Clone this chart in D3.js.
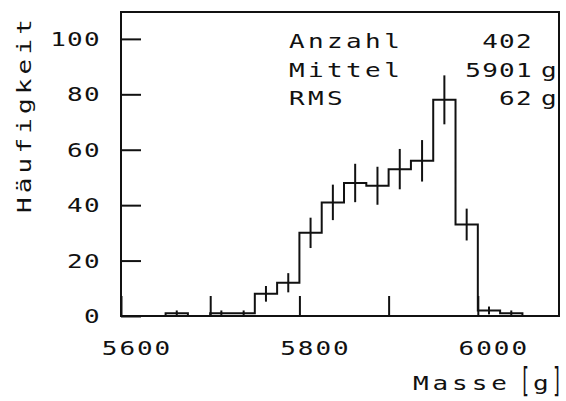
<!DOCTYPE html>
<html><head><meta charset="utf-8">
<script src="https://cdn.jsdelivr.net/npm/d3@7"></script>
<style>
html,body{margin:0;padding:0;background:#fff;}
text{font-family:"DejaVu Sans Mono",monospace;fill:#111;}
</style></head>
<body><svg id="c" width="566" height="401"></svg>
<script>
// Data
const binEdges = [5650,5675,5700,5725,5750,5775,5800,5825,5850,5875,5900,5925,5950,5975,6000,6025,6050];
const counts   = [1,0,1,1,8,12,30,41,48,47,53,56,78,33,2,1];
const yTicks = [0,20,40,60,80,100];
const xTicks = [5600,5700,5800,5900,6000];
const xTickLabels = [5600,5800,6000];
const statLabels = ["Anzahl","Mittel","RMS"];
const statValues = ["402","5901","62"];
const statUnits = ["","g","g"];

const svg = d3.select("#c");
const L=121,R=559,T=12,B=316;
const x = d3.scaleLinear().domain([5600,6091]).range([L,R]);
const y = d3.scaleLinear().domain([0,109.7]).range([B,T]);
const ink="#111";

function txt(g,px,py,s,anchor,size,sx,ls,sy){
  return g.append("text").attr("transform",`translate(${px},${py}) scale(${sx},${sy||1})`)
    .attr("text-anchor",anchor).attr("font-size",size)
    .attr("letter-spacing",ls).text(s);
}

// frame
svg.append("rect").attr("x",L).attr("y",T).attr("width",R-L).attr("height",B-T)
  .attr("fill","none").attr("stroke",ink).attr("stroke-width",2);

// y ticks (inward)
const yAxis = d3.axisRight(y).tickValues(yTicks).tickSize(20).tickFormat("");
const ya = svg.append("g").attr("transform",`translate(${L},0)`).call(yAxis);
ya.select(".domain").remove();
ya.selectAll(".tick line").attr("stroke",ink).attr("stroke-width",2);
yTicks.forEach(v=>txt(svg,101,y(v)+7,String(v),"end",20,1.3,1));

// x ticks (inward)
const xAxis = d3.axisTop(x).tickValues(xTicks).tickSize(20).tickFormat("");
const xa = svg.append("g").attr("transform",`translate(0,${B})`).call(xAxis);
xa.select(".domain").remove();
xa.selectAll(".tick line").attr("stroke",ink).attr("stroke-width",2);
xTickLabels.forEach(v=>txt(svg,x(v)+16,355,String(v),"middle",20,1.3,1.5));

// histogram step outline
const pts=[[binEdges[0],0]];
counts.forEach((c,i)=>{pts.push([binEdges[i],c]);pts.push([binEdges[i+1],c]);});
pts.push([binEdges[binEdges.length-1],0]);
svg.append("path").attr("d",d3.line().x(d=>x(d[0])).y(d=>y(d[1]))(pts))
  .attr("fill","none").attr("stroke",ink).attr("stroke-width",2);

// error bars
svg.selectAll(".err").data(counts.map((c,i)=>({c,m:(binEdges[i]+binEdges[i+1])/2})).filter(d=>d.c>0))
  .enter().append("line").attr("class","err")
  .attr("x1",d=>x(d.m)).attr("x2",d=>x(d.m))
  .attr("y1",d=>y(d.c+Math.sqrt(d.c))).attr("y2",d=>y(Math.max(0,d.c-Math.sqrt(d.c))))
  .attr("stroke",ink).attr("stroke-width",2);

// stats box text
const rowsY=[48,77,105];
statLabels.forEach((s,i)=>{
  txt(svg,289,rowsY[i],s,"start",20,1.3,2.6);
  txt(svg,533,rowsY[i],statValues[i],"end",20,1.3,1);
  if(statUnits[i]) txt(svg,541,rowsY[i],statUnits[i],"start",20,1.3,0);
});

// axis titles
svg.append("text").attr("transform","translate(31,114) rotate(-90) scale(1.3,1)")
  .attr("text-anchor","middle").attr("font-size",20).attr("letter-spacing",3.2).text("Häufigkeit");
txt(svg,413,390,"Masse","start",20,1.3,3);
txt(svg,525,392,"[","middle",28,0.6,0,1.2);
txt(svg,533,390,"g","start",20,1.3,0);
txt(svg,557,392,"]","middle",28,0.6,0,1.2);
</script></body></html>
